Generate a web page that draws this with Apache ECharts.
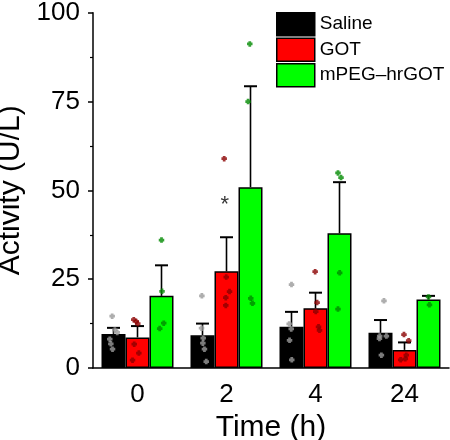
<!DOCTYPE html>
<html><head><meta charset="utf-8">
<script src="https://cdn.jsdelivr.net/npm/echarts@6/dist/echarts.min.js"></script>
<style>html,body{margin:0;padding:0;background:#fff}#c{width:450px;height:440px}</style>
</head><body><div id="c"></div>
<script>
const categories = ['0', '2', '4', '24'];
const seriesNames = ['Saline', 'GOT', 'mPEG\u2013hrGOT'];
const yTicks = [0, 25, 50, 75, 100];

const salineMean = [9.6, 9.2, 11.6, 9.9];
const gotMean = [8.6, 27.2, 16.8, 5.1];
const mpegMean = [20.3, 50.9, 37.9, 19.3];

const salineSD = [1.7, 3.3, 4.2, 3.6];
const gotSD = [3.2, 9.6, 4.4, 2.1];
const mpegSD = [8.6, 28.4, 14.4, 1.0];

// individual points per time group: [jitter (category units), value]
const salinePts = [
  [[-0.015, 14.6], [0.015, 10.7], [0.042, 10.0], [-0.042, 8.1], [-0.030, 6.8], [-0.011, 5.3]],
  [[-0.007, 20.3], [-0.011, 11.2], [0.008, 8.4], [0.004, 7.0], [0.022, 5.3], [0.042, 1.8]],
  [[0.000, 23.5], [-0.026, 12.4], [-0.003, 11.0], [-0.022, 7.8], [0.003, 2.3]],
  [[0.039, 18.9], [-0.009, 9.0], [0.066, 9.0], [-0.012, 8.3], [0.010, 3.6]]
];
const gotPts = [
  [[-0.042, 13.6], [-0.015, 13.1], [0.003, 12.5], [-0.037, 6.7], [0.015, 4.2], [-0.056, 2.2]],
  [[-0.026, 58.9], [-0.003, 25.6], [0.034, 21.5], [-0.008, 19.8], [-0.008, 17.6]],
  [[-0.004, 27.1], [0.018, 18.4], [0.003, 15.9], [0.034, 11.6], [0.045, 10.6]],
  [[-0.006, 9.4], [0.047, 7.7], [0.020, 3.6], [-0.043, 2.3], [0.009, 2.6]]
];
const mpegPts = [
  [[0.000, 36.0], [0.006, 21.6], [0.025, 12.6], [-0.020, 11.1]],
  [[-0.008, 91.2], [-0.027, 75.0], [0.003, 19.6], [0.022, 18.2]],
  [[-0.017, 54.9], [0.017, 53.6], [0.002, 26.8], [-0.017, 16.6]],
  [[0.011, 17.8], [0.000, 20.0]]
];

// significance mark: [group index, series index, jitter, value]
const starMark = [1, 1, -0.02, 47.5];

const W = 450, H = 440;
const gridLeft = 93, gridRight = 1, gridTop = 12.7, gridBottom = 72;
const barW = 24;
const catW = (W - gridLeft - gridRight) / categories.length;
const offU = barW / catW;
const seriesOff = [-offU, 0, offU];

const FONT = '"Liberation Sans", Arial, Helvetica, sans-serif';
const barColors = ['#000000', '#ff0000', '#00ff00'];
const ptColors = ['#9a9a9a', '#8b0000', '#008a00'];
const means = [salineMean, gotMean, mpegMean];
const sds = [salineSD, gotSD, mpegSD];
const pts = [salinePts, gotPts, mpegPts];

const series = [];
seriesNames.forEach((name, si) => {
  series.push({
    name: name, type: 'bar', xAxisIndex: 0, yAxisIndex: 0,
    data: means[si], barWidth: barW, barGap: '0%',
    itemStyle: { color: barColors[si], borderColor: '#000', borderWidth: 1.5 },
    z: 2, silent: true
  });
});
seriesNames.forEach((name, si) => {
  series.push({
    type: 'custom', xAxisIndex: 1, yAxisIndex: 0, z: 3, silent: true,
    data: means[si].map((m, k) => [k + seriesOff[si], m, sds[si][k]]),
    encode: { x: 0, y: 1 },
    renderItem: function (params, api) {
      const x = api.value(0), m = api.value(1), s = api.value(2);
      const p0 = api.coord([x, m]);
      const p1 = api.coord([x, m + s]);
      return {
        type: 'group', children: [
          { type: 'line', shape: { x1: p0[0], y1: p0[1], x2: p1[0], y2: p1[1] }, style: { stroke: '#000', lineWidth: 1.6 } },
          { type: 'line', shape: { x1: p1[0] - 6.5, y1: p1[1], x2: p1[0] + 6.5, y2: p1[1] }, style: { stroke: '#000', lineWidth: 2 } }
        ]
      };
    }
  });
});
seriesNames.forEach((name, si) => {
  const d = [];
  pts[si].forEach((grp, k) => grp.forEach(p => d.push([k + seriesOff[si] + p[0], p[1]])));
  series.push({
    type: 'scatter', xAxisIndex: 1, yAxisIndex: 0, z: 4, silent: true,
    data: d,
    symbol: 'path://M1.5,0H4.5V1.5H6V4.5H4.5V6H1.5V4.5H0V1.5H1.5Z', symbolSize: 5.5,
    itemStyle: { color: ptColors[si] }
  });
});
series.push({
  type: 'scatter', xAxisIndex: 1, yAxisIndex: 0, z: 5, silent: true,
  data: [[starMark[0] + seriesOff[starMark[1]] + starMark[2], starMark[3]]],
  symbolSize: 1, itemStyle: { color: 'rgba(0,0,0,0)' },
  label: { show: true, position: 'inside', formatter: '*', color: '#000', fontSize: 22, fontFamily: FONT, offset: [0, 6] }
});

const chart = echarts.init(document.getElementById('c'), null, { renderer: 'canvas' });
chart.setOption({
  animation: false,
  backgroundColor: '#fff',
  grid: { left: gridLeft, right: gridRight, top: gridTop, bottom: gridBottom, containLabel: false, outerBoundsMode: 'none' },
  legend: {
    data: seriesNames, orient: 'vertical', left: 271, top: 7,
    itemWidth: 38, itemHeight: 23, itemGap: 1, icon: 'rect',
    itemStyle: { borderColor: '#000', borderWidth: 1.5 },
    textStyle: { fontSize: 19, color: '#000', fontFamily: FONT },
    selectedMode: false
  },
  xAxis: [{
    type: 'category', data: categories, boundaryGap: true,
    axisLine: { onZero: false, lineStyle: { color: '#000', width: 1.5 } },
    axisTick: { show: false },
    axisLabel: { color: '#000', fontSize: 26, fontFamily: FONT, margin: 14 },
    name: 'Time (h)', nameLocation: 'middle', nameGap: 35,
    nameTextStyle: { color: '#000', fontSize: 30, fontFamily: FONT }
  }, {
    type: 'value', min: -0.5, max: categories.length - 0.5, show: false
  }],
  yAxis: [{
    type: 'value', min: yTicks[0], max: yTicks[yTicks.length - 1], interval: yTicks[1] - yTicks[0],
    axisLine: { show: true, onZero: false, lineStyle: { color: '#000', width: 1.5 } },
    axisTick: { show: true, length: 5, lineStyle: { color: '#000', width: 1.5 } },
    minorTick: { show: true, splitNumber: 2, length: 3, lineStyle: { color: '#000', width: 1.2 } },
    splitLine: { show: false },
    axisLabel: { color: '#000', fontSize: 26, fontFamily: FONT, margin: 13 },
    name: 'Activity (U/L)', nameLocation: 'middle', nameGap: 64,
    nameTextStyle: { color: '#000', fontSize: 30, fontFamily: FONT }
  }],
  series: series
});
</script></body></html>
